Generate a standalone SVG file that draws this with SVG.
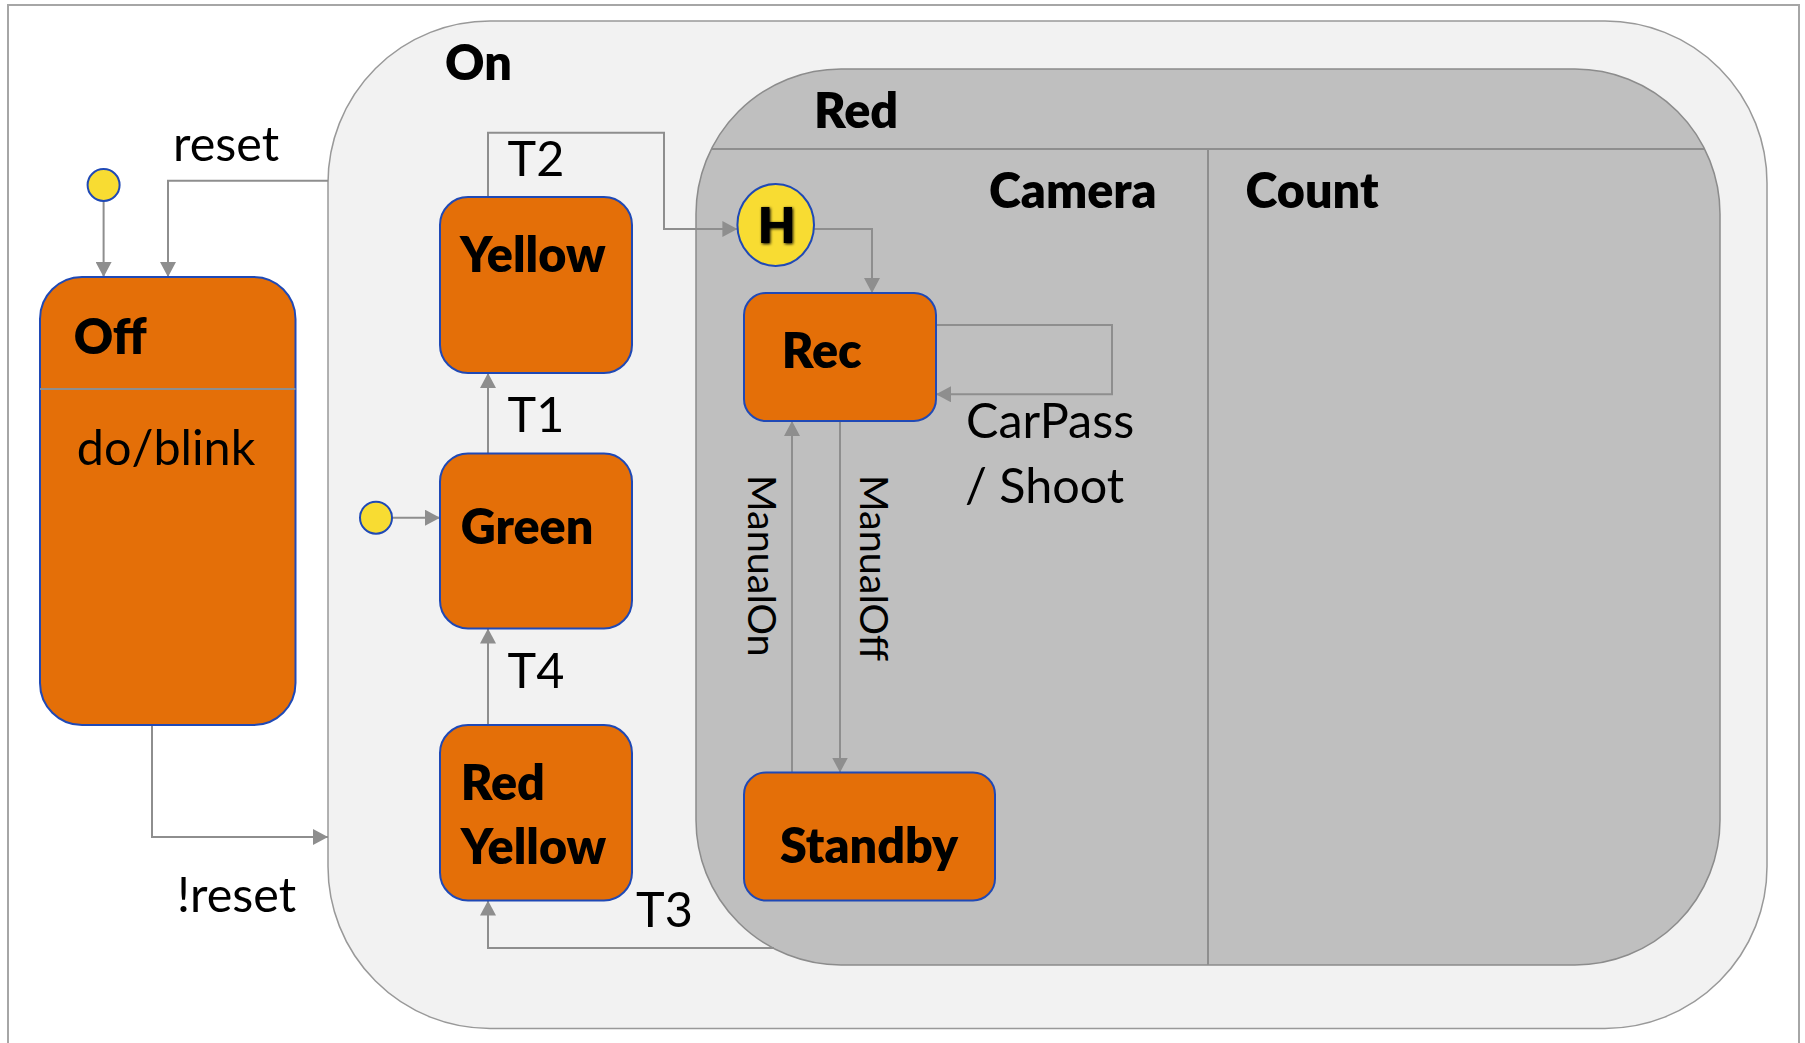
<svg xmlns="http://www.w3.org/2000/svg" width="1805" height="1043" viewBox="0 0 1805 1043">
<style>
.lbl{font-family:Lato,"Liberation Sans",sans-serif;font-size:48.5px;fill:#000}
.b{font-weight:800;font-size:48.5px}
.state{fill:#E46F08;stroke:#1F49B6;stroke-width:2}
.init{fill:#F8DC32;stroke:#1F49B6;stroke-width:2}
.con{fill:none;stroke:#8E8E8E;stroke-width:2}
.sep{stroke:#8E8E8E;stroke-width:2;fill:none}
</style>
<defs>
<marker id="arr" markerUnits="userSpaceOnUse" markerWidth="16" markerHeight="16" refX="15" refY="8" orient="auto">
<path d="M0,0 L15,8 L0,16 z" fill="#8E8E8E"/>
</marker>
<filter id="glow" x="-30%" y="-30%" width="160%" height="160%">
<feGaussianBlur in="SourceAlpha" stdDeviation="1.5"/>
<feOffset dx="1" dy="1" result="b"/>
<feMerge><feMergeNode in="b"/><feMergeNode in="SourceGraphic"/></feMerge>
</filter>
</defs>
<rect x="0" y="0" width="1805" height="1043" fill="#fff"/>
<rect x="8" y="5" width="1791" height="1050" fill="none" stroke="#A6A6A6" stroke-width="2"/>

<g id="On">
<rect x="328" y="21" width="1439" height="1007.5" rx="162" ry="162" fill="#F2F2F2" stroke="#999" stroke-width="1.5"/>
<text class="lbl b" x="445" y="80">On</text>
</g>

<g id="Red">
<rect x="696" y="69" width="1024" height="896" rx="145" ry="145" fill="#BFBFBF" stroke="#8C8C8C" stroke-width="1.5"/>
<line class="sep" x1="711.4" y1="149" x2="1704.6" y2="149"/>
<line class="sep" x1="1208" y1="149" x2="1208" y2="965"/>
<text class="lbl b" x="814" y="128">Red</text>
<text class="lbl b" x="989" y="208">Camera</text>
<text class="lbl b" x="1245.5" y="208">Count</text>
</g>

<g id="connectors">
<path class="con" marker-end="url(#arr)" d="M103.6,201 V277"/>
<path class="con" marker-end="url(#arr)" d="M328,180.7 H168 V277"/>
<path class="con" marker-end="url(#arr)" d="M152,725 V837 H328"/>
<path class="con" marker-end="url(#arr)" d="M392,517.7 H440"/>
<path class="con" marker-end="url(#arr)" d="M488,453.5 V373"/>
<path class="con" marker-end="url(#arr)" d="M488,725 V628.5"/>
<path class="con" marker-end="url(#arr)" d="M488,197 V132.7 H664 V229 H737.4"/>
<path class="con" marker-end="url(#arr)" d="M774,948 H488 V900.5"/>
<path class="con" marker-end="url(#arr)" d="M814,229 H872 V293"/>
<path class="con" marker-end="url(#arr)" d="M936,325 H1112 V394.3 H936"/>
<path class="con" marker-end="url(#arr)" d="M792,772.5 V421"/>
<path class="con" marker-end="url(#arr)" d="M840,421 V772.5"/>
<text class="lbl" x="173" y="160.7">reset</text>
<text class="lbl" x="177" y="911.7">!reset</text>
<text class="lbl" x="507.6" y="176">T2</text>
<text class="lbl" x="507.6" y="431.7">T1</text>
<text class="lbl" x="507.6" y="688.2">T4</text>
<text class="lbl" x="636" y="927">T3</text>
<text class="lbl" x="966" y="437.5">CarPass</text>
<text class="lbl" x="965" y="503">/ Shoot</text>
<text class="lbl" style="font-size:39.5px" transform="translate(748.3,475) rotate(90)">ManualOn</text>
<text class="lbl" style="font-size:39.5px" transform="translate(860,475) rotate(90)">ManualOff</text>
</g>

<g id="init1"><circle class="init" cx="103.6" cy="185" r="16"/></g>
<g id="init2"><circle class="init" cx="376" cy="517.7" r="16"/></g>

<g id="Off">
<rect class="state" x="40" y="277" width="255.5" height="448" rx="42" ry="42"/>
<line class="sep" x1="40" y1="389" x2="295.5" y2="389"/>
<text class="lbl b" x="73.7" y="354">Off</text>
<text class="lbl" x="76.8" y="464.8">do/blink</text>
</g>

<g id="Yellow">
<rect class="state" x="440" y="197" width="192" height="176" rx="28" ry="28"/>
<text class="lbl b" x="460" y="271.7">Yellow</text>
</g>

<g id="Green">
<rect class="state" x="440" y="453.5" width="192" height="175" rx="28" ry="28"/>
<text class="lbl b" x="460.7" y="544.3">Green</text>
</g>

<g id="RedYellow">
<rect class="state" x="440" y="725" width="192" height="175.5" rx="28" ry="28"/>
<text class="lbl b" x="460.7" y="799.7">Red</text>
<text class="lbl b" x="460.7" y="864">Yellow</text>
</g>

<g id="History">
<ellipse class="init" cx="775.7" cy="225" rx="38.3" ry="41"/>
<text class="lbl b" x="776.7" y="242.7" text-anchor="middle" filter="url(#glow)">H</text>
</g>

<g id="Rec">
<rect class="state" x="744" y="293" width="192" height="128" rx="22" ry="22"/>
<text class="lbl b" x="781.7" y="367.7">Rec</text>
</g>

<g id="Standby">
<rect class="state" x="744" y="772.5" width="251" height="128" rx="22" ry="22"/>
<text class="lbl b" x="780" y="863">Standby</text>
</g>
</svg>
